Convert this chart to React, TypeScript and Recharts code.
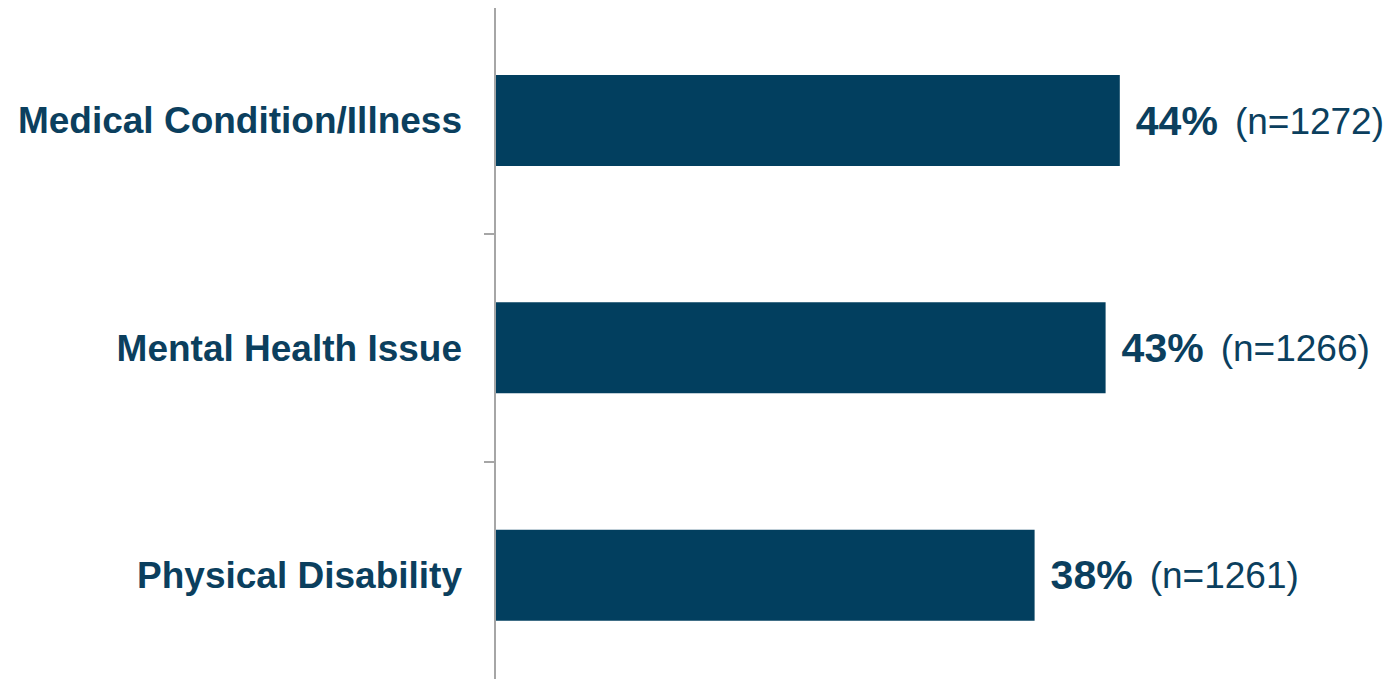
import React from "react";
import { BarChart, Bar, XAxis, YAxis, LabelList } from "recharts";

const categories = ["Medical Condition/Illness", "Mental Health Issue", "Physical Disability"];
const percents = [44, 43, 38];
const counts = [1272, 1266, 1261];

const NAVY = "#023F5F";
const TEXT = "#0B3F5E";
const AXIS = "#A6A6A6";
const CHART_H = 687;
const MARGIN = { top: 7, right: 48, bottom: -2, left: 0 };
const BAND = (CHART_H - MARGIN.top - MARGIN.bottom) / categories.length;

const data = categories.map((name, i) => ({ name, value: percents[i], n: counts[i] }));

// category label plus a tick at the top edge of its band
function CategoryTick(props: any) {
    const { x, y, payload } = props;
    const top = Math.max(7, Math.round(y - BAND / 2));
    return (
        <g>
            <line x1={x + 22} x2={x + 33} y1={top} y2={top} stroke={AXIS} strokeWidth={2} />
            <text
                x={x}
                y={y}
                textAnchor="end"
                dominantBaseline="central"
                fontFamily="'Liberation Sans', Arial, sans-serif"
                fontWeight="bold"
                fontSize={37}
                fill={TEXT}
            >
                {payload.value}
            </text>
        </g>
    );
}

function ValueLabel(props: any) {
    const { x, y, width, height, index } = props;
    return (
        <text
            x={x + width + 16}
            y={y + height / 2}
            dominantBaseline="central"
            fontFamily="'Liberation Sans', Arial, sans-serif"
            fill={TEXT}
        >
            <tspan fontWeight="bold" fontSize={41}>{percents[index]}%</tspan>
            <tspan fontSize={37} dx={17}>(n={counts[index]})</tspan>
        </text>
    );
}

export default function App() {
    return (
        <div style={{ margin: -8 }}>
            <BarChart width={1395} height={CHART_H} data={data} layout="vertical" margin={MARGIN}>
                <XAxis type="number" domain={[0, 60]} hide />
                <YAxis
                    type="category"
                    dataKey="name"
                    width={495}
                    axisLine={{ stroke: AXIS, strokeWidth: 2 }}
                    tickLine={false}
                    tick={<CategoryTick />}
                    tickMargin={27}
                    interval={0}
                />
                <Bar dataKey="value" fill={NAVY} barSize={91} isAnimationActive={false}>
                    <LabelList dataKey="value" content={<ValueLabel />} />
                </Bar>
            </BarChart>
        </div>
    );
}
